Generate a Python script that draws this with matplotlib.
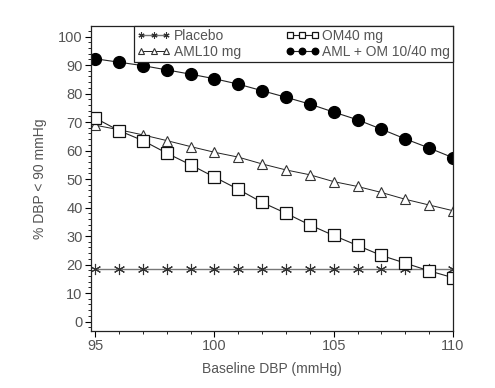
import matplotlib
matplotlib.use('Agg')
import matplotlib.pyplot as plt
from matplotlib.ticker import MultipleLocator

plt.rcParams['font.family'] = ['Liberation Sans', 'DejaVu Sans']

dbp = [95, 96, 97, 98, 99, 100, 101, 102, 103, 104, 105, 106, 107, 108, 109, 110]
placebo = [18.3] * 16
om40 = [71.4, 67.0, 63.5, 59.1, 55.0, 50.7, 46.4, 41.8, 38.0, 33.9, 30.2, 26.7, 23.2, 20.5, 17.8, 15.4]
aml10 = [68.9, 67.3, 65.5, 63.5, 61.4, 59.4, 57.7, 55.3, 53.2, 51.5, 49.1, 47.4, 45.3, 42.9, 40.9, 38.9]
aml_om = [92.2, 91.0, 89.8, 88.3, 86.8, 85.2, 83.3, 81.0, 78.7, 76.3, 73.5, 70.8, 67.5, 64.1, 60.9, 57.5]

txt = '#555555'
fig = plt.figure(figsize=(4.95, 3.88), dpi=100)
ax = fig.add_axes([0.184, 0.147, 0.731, 0.786])

ax.plot(dbp, placebo, color='#777777', lw=1.0, marker=(6, 2, 0), ms=8,
        mec='#333333', mew=0.8, label='Placebo')
ax.plot(dbp, aml10, color='#222222', lw=0.7, marker='^', ms=7, mfc='white',
        mec='#333333', mew=0.8, label='AML10 mg')
ax.plot(dbp, om40, color='#222222', lw=0.8, marker='s', ms=8, mfc='white',
        mec='#111111', mew=0.9, label='OM40 mg')
ax.plot(dbp, aml_om, color='#222222', lw=0.8, marker='o', ms=8.5, mfc='black',
        mec='black', label='AML + OM 10/40 mg')

ax.set_xlim(94.83, 110)
ax.set_ylim(-3.3, 103.7)
ax.xaxis.set_major_locator(MultipleLocator(5))
ax.xaxis.set_minor_locator(MultipleLocator(1))
ax.yaxis.set_major_locator(MultipleLocator(10))
ax.yaxis.set_minor_locator(MultipleLocator(2))
ax.tick_params(which='major', length=4, width=0.8, labelsize=10.5, labelcolor=txt, pad=2)
ax.tick_params(which='minor', length=2, width=0.6)
for s in ax.spines.values():
    s.set_linewidth(0.9)
    s.set_color('#222222')

ax.set_xlabel('Baseline DBP (mmHg)', fontsize=10, color=txt, labelpad=6)
ax.set_ylabel('% DBP < 90 mmHg', fontsize=10, color=txt, labelpad=8)

leg = ax.legend(ncol=2, loc='upper right', bbox_to_anchor=(1.0, 1.0),
                borderaxespad=0, fontsize=10, numpoints=3, handlelength=2.4,
                handletextpad=0.25, columnspacing=3.2, markerscale=0.55,
                fancybox=False, framealpha=1, edgecolor='#222222',
                borderpad=0.2, labelspacing=0.15)
leg.get_frame().set_linewidth(0.9)
for t in leg.get_texts():
    t.set_color(txt)

fig.savefig('out.png', dpi=100)
